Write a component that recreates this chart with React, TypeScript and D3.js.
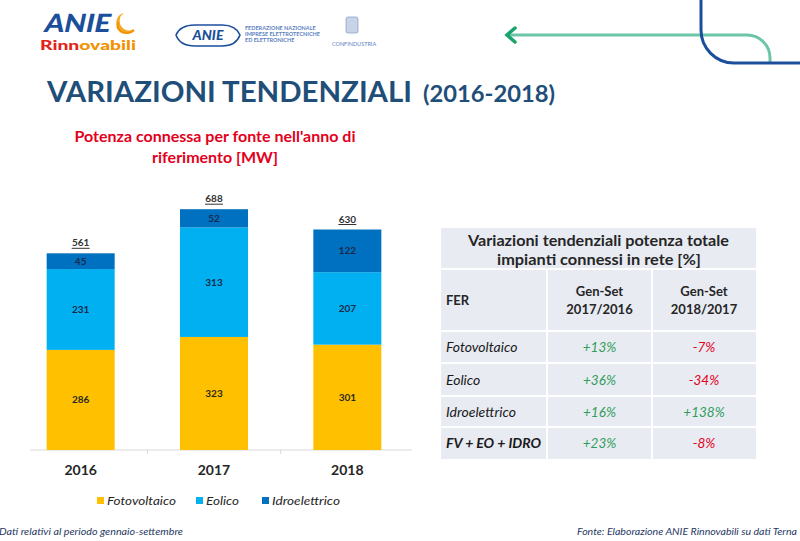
import React from "react";
import * as d3 from "d3";

const years = ["2016", "2017", "2018"];
const seriesNames = ["Fotovoltaico", "Eolico", "Idroelettrico"];
const fotovoltaico = [286, 323, 301];
const eolico = [231, 313, 207];
const idroelettrico = [45, 52, 122];
const totals = [561, 688, 630];
const seriesColors = ["#ffc000", "#00b0f0", "#0070c0"];

const tableRows = ["Fotovoltaico", "Eolico", "Idroelettrico", "FV + EO + IDRO"];
const var2017 = ["+13%", "+36%", "+16%", "+23%"];
const var2018 = ["-7%", "-34%", "+138%", "-8%"];

const FONT = "Lato, 'Open Sans', sans-serif";

export default function App() {
  const W = 800;
  const H = 541;
  const rows = years.map((y, i) => ({
    year: y,
    Fotovoltaico: fotovoltaico[i],
    Eolico: eolico[i],
    Idroelettrico: idroelettrico[i],
  }));
  const stack = d3.stack<any>().keys(seriesNames);
  const stacked = stack(rows);

  const x = d3.scalePoint<string>().domain(years).range([14, 414]).padding(0.5);
  const step = x.step();
  const bw = step * 0.51;
  const y = d3.scaleLinear().domain([0, 800]).range([450, 170]);

  const tx0 = 441, tx1 = 756;
  const colX = [441, 547, 652, 756];
  const headerTop = 228, headerBot = 269;
  const rowEdges = [331, 363, 396, 427, 459];
  const pos = (s: string) => s.startsWith("+");
  const legendX = [97, 196, 262];
  const legendW = [69, 33, 68];

  return (
    <svg width={W} height={H} style={{ position: "absolute", left: 0, top: 0, background: "#fff" }} fontFamily={FONT}>
      <rect width={W} height={H} fill="#fff" />

      {/* Logos */}
      <g>
        <text x={43} y={32} fontSize={25} fontWeight={900} fill="#1b4f9c" textLength={66} lengthAdjust="spacingAndGlyphs" transform="skewX(-12) translate(7,0)">ANIE</text>
        <path d="M124,13 A10,10 0 1,0 134,29 A8,8 0 1,1 124,13 Z" fill="#f7a823" />
        <path d="M119,22 A9,7 0 0,0 134,30" fill="none" stroke="#f39200" strokeWidth={2} />
        <text x={40} y={50} fontSize={13} fontWeight={900} textLength={96} lengthAdjust="spacingAndGlyphs">
          <tspan fill="#e2231a">Rinn</tspan>
          <tspan fill="#f39200">ovabili</tspan>
        </text>

        <path d="M176,35 Q180,25 195,25 L222,25 Q236,25 240,35 Q236,46 222,46 L195,46 Q180,46 176,35 Z" fill="none" stroke="#1b4f9c" strokeWidth={1.6} />
        <text x={208} y={40} textAnchor="middle" fontSize={14} fontWeight={900} fontStyle="italic" fill="#1b4f9c">ANIE</text>
        <text fontSize={5.5} fill="#5b7fbf" fontWeight={700}>
          <tspan x={245} y={30}>FEDERAZIONE NAZIONALE</tspan>
          <tspan x={245} y={36}>IMPRESE ELETTROTECNICHE</tspan>
          <tspan x={245} y={42}>ED ELETTRONICHE</tspan>
        </text>
        <rect x={346} y={17} width={12} height={16} fill="#c9d3e8" stroke="#8fa3cc" strokeWidth={0.8} rx={2} />
        <text x={354} y={46} textAnchor="middle" fontSize={5.5} fill="#5b7fbf">CONFINDUSTRIA</text>
      </g>

      {/* Decorative lines */}
      <g fill="none">
        <path d="M509,35 L747,35 A23,23 0 0,1 770,58 L770,62" stroke="#6cc6a6" strokeWidth={3} />
        <path d="M515,28 L507,35 L515,42" stroke="#1aa36b" strokeWidth={3.5} strokeLinecap="round" />
        <path d="M701,0 L701,30 A33,33 0 0,0 734,63 L800,63" stroke="#1b4f9c" strokeWidth={3} />
      </g>

      {/* Title */}
      <text x={47} y={102} fontSize={29} fontWeight={700} fill="#1f4e79" textLength={365} lengthAdjust="spacingAndGlyphs">VARIAZIONI TENDENZIALI</text>
      <text x={423} y={102} fontSize={22} fontWeight={700} fill="#1f4e79" textLength={132} lengthAdjust="spacingAndGlyphs">(2016-2018)</text>

      {/* Subtitle */}
      <text textAnchor="middle" fontSize={16} fontWeight={700} fill="#e3001b">
        <tspan x={215} y={142}>Potenza connessa per fonte nell'anno di</tspan>
        <tspan x={215} y={163}>riferimento [MW]</tspan>
      </text>

      {/* Axis line and ticks */}
      <line x1={30} x2={412} y1={y(0)} y2={y(0)} stroke="#d9d9d9" strokeWidth={1} />
      {years.slice(1).map((yr, i) => {
        const tx = (x(years[i])! + x(yr)!) / 2;
        return <line key={yr} x1={tx} x2={tx} y1={y(0)} y2={y(0) + 4} stroke="#d9d9d9" />;
      })}

      {/* Bars */}
      {stacked.map((layer, si) => (
        <g key={layer.key}>
          {layer.map((d, i) => {
            const cx = x(years[i])!;
            const top = y(d[1]);
            const bot = y(d[0]);
            return (
              <g key={i}>
                <rect x={cx - bw / 2} y={top} width={bw} height={bot - top} fill={seriesColors[si]} />
                <text x={cx} y={(top + bot) / 2 + 3.5} textAnchor="middle" fontSize={10} fontWeight={700} fill={si === 0 ? "#2b2a1f" : "#1c2a4a"}>
                  {d[1] - d[0]}
                </text>
              </g>
            );
          })}
        </g>
      ))}

      {/* Totals */}
      {years.map((yr, i) => {
        const cx = x(yr)!;
        const top = y(fotovoltaico[i] + eolico[i] + idroelettrico[i]);
        return (
          <g key={yr}>
            <text x={cx} y={top - 7} textAnchor="middle" fontSize={10} fontWeight={700} fill="#333">{totals[i]}</text>
            <line x1={cx - 9} x2={cx + 9} y1={top - 5} y2={top - 5} stroke="#333" strokeWidth={1} />
          </g>
        );
      })}

      {/* Category labels */}
      {years.map((yr) => (
        <text key={yr} x={x(yr)!} y={475} textAnchor="middle" fontSize={14} fontWeight={700} fill="#262626">{yr}</text>
      ))}

      {/* Legend */}
      {seriesNames.map((s, i) => (
        <g key={s}>
          <rect x={legendX[i]} y={497} width={7} height={7} fill={seriesColors[i]} />
          <text x={legendX[i] + 10} y={505} fontSize={12} fontStyle="italic" fill="#262626" textLength={legendW[i]} lengthAdjust="spacingAndGlyphs">{s}</text>
        </g>
      ))}

      {/* Table */}
      <g>
        <rect x={tx0} y={headerTop} width={tx1 - tx0} height={rowEdges[4] - headerTop} fill="#e8ebf2" />
        <line x1={tx0} x2={tx1} y1={headerBot} y2={headerBot} stroke="#fff" strokeWidth={2} />
        {rowEdges.slice(0, 4).map((ry) => (
          <line key={ry} x1={tx0} x2={tx1} y1={ry} y2={ry} stroke="#fff" strokeWidth={2} />
        ))}
        {[colX[1], colX[2]].map((cx) => (
          <line key={cx} x1={cx} x2={cx} y1={headerBot} y2={rowEdges[4]} stroke="#fff" strokeWidth={2} />
        ))}
        <text x={468} y={246} fontSize={15.5} fontWeight={700} fill="#262626" textLength={261} lengthAdjust="spacingAndGlyphs">Variazioni tendenziali potenza totale</text>
        <text x={497} y={265} fontSize={15.5} fontWeight={700} fill="#262626" textLength={204} lengthAdjust="spacingAndGlyphs">impianti connessi in rete [%]</text>
        <text x={446} y={305} fontSize={13} fontWeight={700} fill="#262626">FER</text>
        {["2017/2016", "2018/2017"].map((lab, i) => {
          const cx = (colX[i + 1] + colX[i + 2]) / 2;
          return (
            <text key={lab} textAnchor="middle" fontSize={13} fontWeight={700} fill="#262626">
              <tspan x={cx} y={296}>Gen-Set</tspan>
              <tspan x={cx} y={314}>{lab}</tspan>
            </text>
          );
        })}
        {tableRows.map((r, i) => {
          const cy = (rowEdges[i] + rowEdges[i + 1]) / 2 + 5;
          const last = i === tableRows.length - 1;
          return (
            <g key={r}>
              <text x={446} y={cy} fontSize={14} fontStyle="italic" fontWeight={last ? 700 : 400} fill="#1a1a1a">{r}</text>
              <text x={(colX[1] + colX[2]) / 2} y={cy} textAnchor="middle" fontSize={13.5} fontStyle="italic" fill={pos(var2017[i]) ? "#2e9e5b" : "#e3001b"}>{var2017[i]}</text>
              <text x={(colX[2] + colX[3]) / 2} y={cy} textAnchor="middle" fontSize={13.5} fontStyle="italic" fill={pos(var2018[i]) ? "#2e9e5b" : "#e3001b"}>{var2018[i]}</text>
            </g>
          );
        })}
      </g>

      {/* Footnotes */}
      <text x={-1} y={535} fontSize={9} fontStyle="italic" fill="#1f3864" textLength={184} lengthAdjust="spacingAndGlyphs">Dati relativi al periodo gennaio-settembre</text>
      <text x={577} y={535} fontSize={9} fontStyle="italic" fill="#1f3864" textLength={220} lengthAdjust="spacingAndGlyphs">Fonte: Elaborazione ANIE Rinnovabili su dati Terna</text>
    </svg>
  );
}
